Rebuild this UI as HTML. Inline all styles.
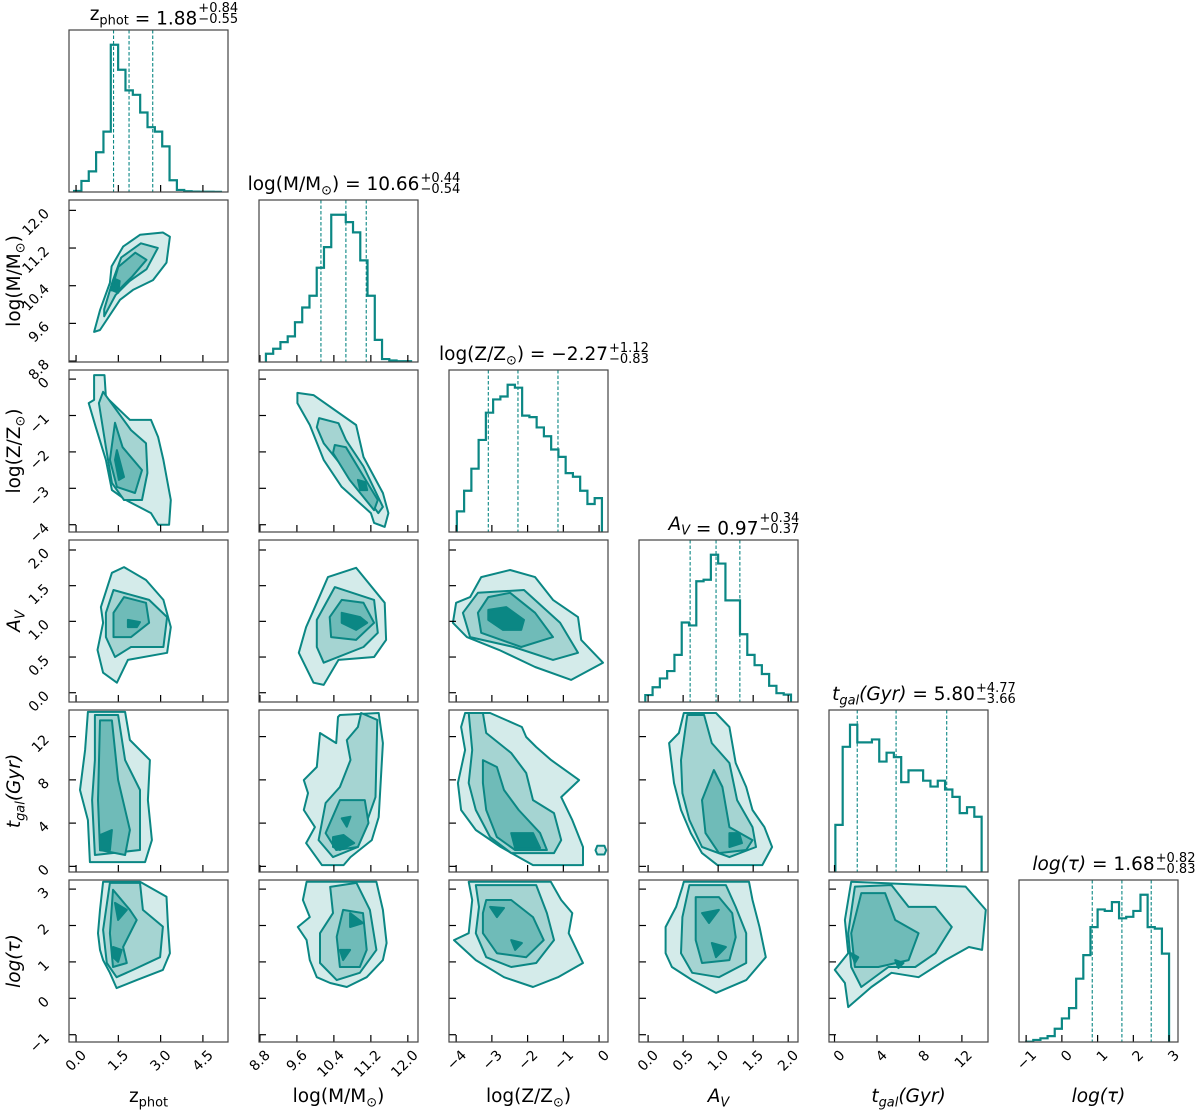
<!DOCTYPE html>
<html><head><meta charset="utf-8"><style>
html,body{margin:0;padding:0;background:#fff;}
svg{display:block;font-family:"DejaVu Sans","Liberation Sans",sans-serif;}
</style></head><body>
<svg id="fig" width="1200" height="1110" viewBox="0 0 1200 1110" xmlns="http://www.w3.org/2000/svg"></svg>
<script>
// ---- axis limits / ticks ----
const limZphot=[-0.25,5.39], limLogM=[8.78,12.22], limLogZ=[-4.2,0.25], limAv=[-0.13,2.14], limTgal=[-0.52,14.46], limLogtau=[-1.2,3.25];
const ticksZphot=[0,1.5,3,4.5], tickLabZphot=['0.0','1.5','3.0','4.5'];
const ticksLogM=[8.8,9.6,10.4,11.2,12.0], tickLabLogM=['8.8','9.6','10.4','11.2','12.0'];
const ticksLogZ=[-4,-3,-2,-1,0], tickLabLogZ=['\u22124','\u22123','\u22122','\u22121','0'];
const ticksAv=[0,0.5,1,1.5,2], tickLabAv=['0.0','0.5','1.0','1.5','2.0'];
const ticksTgal=[0,4,8,12], tickLabTgal=['0','4','8','12'];
const ticksLogtau=[-1,0,1,2,3], tickLabLogtau=['\u22121','0','1','2','3'];
// ---- histograms (relative counts, 20 bins) ----
const binsZphot=[-0.07,5.14], histZphot=[0.007,0.075,0.14,0.27,0.41,1.0,0.83,0.69,0.66,0.54,0.44,0.41,0.31,0.08,0.014,0.005,0.003,0.002,0.002,0.001];
const binsLogM=[8.93,12.07], histLogM=[0.056,0.09,0.135,0.174,0.27,0.37,0.45,0.64,0.78,1,1,0.95,0.88,0.69,0.45,0.15,0.02,0.01,0.005,0.005];
const binsLogZ=[-3.98,0.08], histLogZ=[0.14,0.28,0.43,0.625,0.81,0.9,0.92,1.0,0.98,0.79,0.78,0.71,0.65,0.56,0.51,0.40,0.375,0.28,0.19,0.23];
const binsAv=[-0.04,2.04], histAv=[0.047,0.1,0.16,0.21,0.32,0.54,0.52,0.82,0.83,1.0,0.94,0.69,0.69,0.46,0.32,0.25,0.19,0.11,0.06,0.05];
const binsTgal=[0.08,13.86], histTgal=[0.32,0.85,1.0,0.88,0.88,0.90,0.75,0.81,0.78,0.61,0.69,0.69,0.62,0.58,0.62,0.56,0.51,0.40,0.44,0.375];
const binsLogtau=[-1.0,3.0], histLogtau=[0.002,0.014,0.025,0.04,0.09,0.16,0.23,0.43,0.59,0.78,0.90,0.89,0.95,0.84,0.85,0.89,1.0,0.78,0.77,0.60];
// ---- quantiles [16,50,84] ----
const qZphot=[1.33,1.88,2.72], qLogM=[10.12,10.66,11.10], qLogZ=[-3.10,-2.27,-1.15], qAv=[0.60,0.97,1.31], qTgal=[2.14,5.80,10.57], qLogtau=[0.85,1.68,2.50];
// ---- contour polygons (data coords, x,y pairs): levels outer->core ----
const c_r1c0=[[[0.64,9.42,0.85,9.88,1.2,10.46,1.26,10.81,1.67,11.23,2.27,11.48,3.08,11.53,3.33,11.44,3.21,10.89,2.73,10.52,2.02,10.31,1.56,10.1,0.85,9.46]],
 [[1.0,9.9,1.3,10.5,1.6,11.0,2.3,11.3,2.9,11.2,2.5,10.75,1.9,10.5,1.4,10.2,1.0,9.75]],
 [[1.25,10.3,1.5,10.8,2.1,11.1,2.5,10.95,2.0,10.6,1.5,10.3]],
 [[1.3,10.3,1.35,10.55,1.55,10.5,1.5,10.25]]];
const c_r2c0=[[[0.64,0.11,1.01,0.11,1.06,-0.49,1.91,-1.12,2.66,-1.12,2.91,-1.59,3.1,-2.22,3.36,-3.32,3.3,-4.0,2.91,-4.0,2.66,-3.68,1.77,-3.32,1.27,-3.05,1.06,-2.22,0.7,-1.32,0.45,-0.66,0.64,-0.57]],
 [[0.96,-0.35,1.95,-1.4,2.48,-1.76,2.53,-2.58,2.34,-3.32,1.7,-3.32,1.27,-2.85,1.06,-1.87,0.81,-0.66]],
 [[1.38,-1.2,1.65,-1.87,2.34,-2.5,2.09,-3.13,1.45,-2.96,1.2,-2.22]],
 [[1.45,-1.95,1.7,-2.69,1.52,-2.77,1.38,-2.22]]];
const c_r2c1=[[[9.61,-0.38,9.96,-0.44,10.88,-1.26,11.04,-2.14,11.46,-3.13,11.58,-3.68,11.5,-4.06,11.27,-3.95,11.2,-3.68,10.57,-2.96,10.18,-2.22,9.88,-1.26,9.61,-0.66]],
 [[10.08,-1.07,10.5,-1.21,10.66,-1.67,11.04,-2.4,11.46,-3.51,11.36,-3.68,11.04,-3.13,10.18,-1.76,10.03,-1.32]],
 [[10.42,-1.81,10.66,-1.87,11.35,-3.32,11.27,-3.6,10.74,-2.77,10.38,-2.03]],
 [[10.92,-2.77,11.08,-2.83,11.12,-3.05,10.97,-3.05]]];
const c_r3c0=[[[1.7,1.76,2.48,1.58,3.1,1.3,3.36,0.92,3.23,0.56,1.84,0.46,1.45,0.14,0.96,0.28,0.76,0.6,0.96,0.98,0.88,1.2,1.27,1.68]],
 [[1.33,1.44,2.59,1.3,3.23,1.06,3.1,0.64,1.95,0.64,1.38,0.5,1.06,0.78,1.06,1.12]],
 [[1.7,1.34,2.48,1.26,2.59,0.98,1.95,0.78,1.33,0.78,1.33,1.12]],
 [[1.84,1.02,2.27,0.99,2.16,0.92,1.84,0.92]]];
const c_r3c1=[[[10.88,1.75,11.5,1.26,11.53,0.74,11.27,0.5,10.5,0.46,10.18,0.11,9.96,0.14,9.64,0.56,9.8,0.92,10.03,1.26,10.27,1.62]],
 [[10.42,1.48,11.27,1.3,11.35,0.84,11.04,0.64,10.18,0.42,10.03,0.64,10.03,1.02]],
 [[10.57,1.3,11.04,1.26,11.27,0.98,10.88,0.74,10.34,0.78,10.31,1.06]],
 [[10.57,1.12,10.97,1.06,11.12,0.98,10.88,0.88,10.57,0.98]]];
const c_r3c2=[[[-3.3,1.62,-2.49,1.72,-1.79,1.62,-1.29,1.3,-0.59,1.06,-0.5,0.74,0.11,0.42,-0.78,0.18,-1.79,0.36,-2.8,0.6,-3.7,0.78,-4.09,0.98,-4.0,1.26,-3.61,1.34]],
 [[-3.39,1.4,-2.1,1.44,-1.09,0.98,-0.59,0.56,-1.29,0.46,-2.39,0.64,-3.61,0.78,-3.81,1.12]],
 [[-3.1,1.34,-2.49,1.4,-1.79,1.12,-1.29,0.78,-2.18,0.64,-3.3,0.84,-3.39,1.12]],
 [[-3.1,1.16,-2.6,1.2,-2.1,1.02,-2.18,0.88,-2.69,0.88,-3.1,1.02]]];
const c_r4c0=[[[0.42,14.28,1.74,14.28,1.91,11.69,2.62,9.83,2.55,6.13,2.69,2.43,2.45,0.4,0.49,0.4,0.42,4.28,0.14,7.06,0.32,10.76]],
 [[0.67,14.0,1.49,14.0,1.74,9.83,2.27,7.06,2.27,1.51,0.67,1.05,0.57,6.13,0.67,9.83]],
 [[0.85,13.5,1.27,13.5,1.49,8.0,1.91,3.36,1.74,1.05,0.85,1.51,0.78,6.13]],
 [[0.85,2.9,1.27,3.36,1.2,1.5,0.85,1.5]]];
const c_r4c1=[[[10.53,14.0,11.37,14.18,11.46,11.4,11.37,4.56,11.22,2.43,10.76,0.86,10.61,0.12,10.14,0.12,9.8,2.15,9.99,3.63,9.75,5.21,9.84,6.78,9.75,7.98,10.03,9.19,10.1,12.33,10.45,11.4,10.49,13.81]],
 [[10.99,14.18,11.34,13.54,11.3,6.41,10.92,1.79,10.38,0.86,10.07,2.43,10.22,5.86,10.53,7.34,10.76,9.84,10.68,11.68,10.92,12.89]],
 [[10.53,6.13,11.07,6.13,11.15,4.01,10.92,1.79,10.45,1.51,10.22,3.08]],
 [[10.38,2.71,10.61,2.9,10.84,2.15,10.53,1.51,10.38,1.79],[10.57,4.44,10.76,4.59,10.68,3.67]]];
const c_r4c2=[[[-3.75,14.18,-3.05,14.18,-2.16,12.89,-2.04,11.96,-1.76,11.04,-1.34,9.83,-0.56,7.98,-1.06,6.41,-0.75,4.28,-0.45,1.79,-0.45,0.12,-1.85,0.12,-2.25,0.86,-2.75,1.79,-3.45,3.36,-3.86,5.21,-3.95,7.71,-3.75,10.76,-3.86,12.89],[-0.05,1.9,0.15,1.9,0.2,1.5,0.15,1.1,-0.05,1.1,-0.1,1.5]],
 [[-3.65,14.18,-3.25,14.18,-3.16,12.33,-2.46,10.48,-2.04,8.63,-1.85,6.13,-1.26,4.93,-1.06,2.43,-1.26,1.23,-2.46,1.23,-3.05,2.71,-3.45,5.21,-3.65,7.71,-3.55,10.76]],
 [[-3.25,9.83,-2.86,9.19,-2.66,7.06,-2.25,5.21,-1.65,3.08,-1.46,1.51,-2.35,1.51,-2.86,2.71,-3.16,5.21,-3.25,7.71]],
 [[-2.46,3.08,-1.85,3.08,-1.65,1.69,-2.35,1.69]]];
const c_r4c3=[[[0.51,14.18,0.97,14.18,1.16,12.89,1.25,9.56,1.4,7.34,1.49,5.21,1.66,3.63,1.77,1.79,1.63,0.12,0.99,0.12,0.77,1.23,0.61,3.08,0.47,5.21,0.37,7.71,0.3,11.4,0.44,12.33]],
 [[0.56,14.0,0.8,14.0,0.91,11.4,1.16,9.56,1.27,6.13,1.49,3.63,1.54,1.79,1.16,0.86,0.77,1.79,0.59,4.28,0.49,6.78,0.47,9.83]],
 [[0.94,8.91,1.06,7.34,1.16,3.63,1.49,2.43,1.4,1.51,1.01,1.23,0.82,3.08,0.77,6.13]],
 [[1.16,3.08,1.3,3.08,1.34,2.15,1.16,1.79]]];
const c_r5c0=[[[0.96,3.2,2.27,3.2,3.21,2.79,3.26,1.97,3.33,1.24,3.08,0.78,2.15,0.5,1.44,0.28,1.2,0.7,0.96,1.05,0.85,1.33,0.78,1.79,0.85,2.43]],
 [[1.2,3.17,2.27,3.17,2.37,2.43,3.08,1.97,2.98,1.13,2.02,0.78,1.44,0.58,1.09,0.97,0.96,1.88]],
 [[1.31,2.98,1.91,2.43,2.15,2.15,1.67,1.41,1.8,0.97,1.31,0.86,1.2,1.79]],
 [[1.38,2.62,1.8,2.43,1.49,2.15],[1.31,1.41,1.62,1.33,1.49,1.0,1.31,1.13]]];
const c_r5c1=[[[9.81,3.2,11.32,3.2,11.46,2.43,11.54,1.52,11.46,1.05,11.11,0.58,10.68,0.31,10.32,0.42,10.03,0.58,9.88,1.05,9.81,1.6,9.62,1.96,9.88,2.23,9.73,2.7]],
 [[10.32,3.06,10.89,3.17,11.18,2.43,11.32,1.33,10.96,0.7,10.46,0.5,10.1,0.97,10.1,1.79,10.38,2.34]],
 [[10.6,2.43,11.03,2.34,11.11,1.33,10.96,0.86,10.53,0.86,10.46,1.69]],
 [[10.75,2.34,11.03,2.07,10.75,1.96],[10.53,1.33,10.75,1.33,10.6,1.05]]];
const c_r5c2=[[[-3.65,3.2,-1.35,3.2,-1.06,2.7,-0.75,2.34,-0.85,1.79,-0.45,0.97,-1.15,0.58,-1.85,0.31,-2.66,0.58,-3.45,1.05,-4.06,1.6,-3.65,1.79,-3.55,2.7]],
 [[-3.45,3.11,-1.76,3.11,-1.46,2.34,-1.26,1.6,-1.76,0.97,-2.46,0.86,-3.16,1.13,-3.45,1.79,-3.36,2.51]],
 [[-3.16,2.7,-2.46,2.7,-1.85,2.23,-1.55,1.6,-2.04,1.13,-2.86,1.24,-3.25,1.79,-3.25,2.34]],
 [[-3.05,2.51,-2.66,2.48,-2.86,2.23],[-2.46,1.6,-2.16,1.52,-2.35,1.33]]];
const c_r5c3=[[[0.51,3.2,1.44,3.2,1.49,2.7,1.59,1.96,1.68,1.13,1.4,0.5,0.97,0.15,0.63,0.5,0.34,0.86,0.25,1.24,0.25,1.96,0.4,2.51,0.49,3.06]],
 [[0.59,3.11,1.11,3.11,1.25,2.51,1.4,1.79,1.4,0.97,1.01,0.58,0.63,0.7,0.47,1.24,0.49,2.23]],
 [[0.68,2.78,1.01,2.78,1.2,2.34,1.25,1.68,1.16,1.05,0.77,0.97,0.68,1.6]],
 [[0.77,2.34,1.01,2.43,0.87,2.07],[0.91,1.52,1.11,1.41,0.97,1.13]]];
const c_r5c4=[[[1.57,3.2,12.35,3.07,14.25,2.43,13.9,1.33,12.66,1.41,10.45,1.05,7.92,0.58,5.37,0.7,3.47,0.31,1.29,-0.24,0.98,0.42,0.03,0.78,1.29,1.24,0.98,2.15]],
 [[1.92,3.07,5.37,3.11,6.98,2.51,9.5,2.51,11.05,1.96,9.5,1.24,7.61,0.86,5.08,0.86,2.52,0.31,1.57,0.86,1.29,1.79]],
 [[2.52,2.89,4.77,2.89,5.72,2.15,7.92,1.79,6.98,1.05,4.13,0.86,1.92,0.86,1.57,1.79]],
 [[1.57,1.24,2.24,1.13,1.92,0.97],[5.72,1.05,6.5,0.97,6.02,0.83]]];

const V=[
 {key:'zphot',lim:limZphot,ticks:ticksZphot,labs:tickLabZphot,bins:binsZphot,hist:histZphot,q:qZphot,title:['z','phot',false,'1.88','+0.84','\u22120.55']},
 {key:'logM',lim:limLogM,ticks:ticksLogM,labs:tickLabLogM,bins:binsLogM,hist:histLogM,q:qLogM,title:['log(M/M','\u2299',false,'10.66','+0.44','\u22120.54',')']},
 {key:'logZ',lim:limLogZ,ticks:ticksLogZ,labs:tickLabLogZ,bins:binsLogZ,hist:histLogZ,q:qLogZ,title:['log(Z/Z','\u2299',false,'\u22122.27','+1.12','\u22120.83',')']},
 {key:'Av',lim:limAv,ticks:ticksAv,labs:tickLabAv,bins:binsAv,hist:histAv,q:qAv,title:['A','V',true,'0.97','+0.34','\u22120.37']},
 {key:'tgal',lim:limTgal,ticks:ticksTgal,labs:tickLabTgal,bins:binsTgal,hist:histTgal,q:qTgal,title:['t','gal',true,'5.80','+4.77','\u22123.66','(Gyr)']},
 {key:'logtau',lim:limLogtau,ticks:ticksLogtau,labs:tickLabLogtau,bins:binsLogtau,hist:histLogtau,q:qLogtau,title:['log(\u03c4)','',true,'1.68','+0.82','\u22120.83']}
];
const C={'r1c0':c_r1c0,'r2c0':c_r2c0,'r2c1':c_r2c1,'r3c0':c_r3c0,'r3c1':c_r3c1,'r3c2':c_r3c2,'r4c0':c_r4c0,'r4c1':c_r4c1,'r4c2':c_r4c2,'r4c3':c_r4c3,'r5c0':c_r5c0,'r5c1':c_r5c1,'r5c2':c_r5c2,'r5c3':c_r5c3,'r5c4':c_r5c4};

const NS='http://www.w3.org/2000/svg';
const svg=document.getElementById('fig');
const TEAL='#0b8784';
const FILLS=['#d4ebea','#a5d4d2','#6fbbb8','#0b8784'];
const PW=159, PH=162;
function colLeft(j){return 69+190*j;}
function rowTop(i){return 30+170*i;}
function el(tag,attrs,parent){const e=document.createElementNS(NS,tag);for(const k in attrs)e.setAttribute(k,attrs[k]);(parent||svg).appendChild(e);return e;}
function xScale(v,j){const l=V[v].lim;return x=>colLeft(j)+(x-l[0])/(l[1]-l[0])*PW;}
function yScale(v,i){const l=V[v].lim;return y=>rowTop(i)+PH-(y-l[0])/(l[1]-l[0])*PH;}

function mathLabel(parent,x,y,t,size,anchor){
  const tx=el('text',{x:x,y:y,'font-size':size,'text-anchor':anchor||'start',fill:'#000'},parent);
  const m=document.createElementNS(NS,'tspan');m.textContent=t[0];if(t[2])m.setAttribute('font-style','italic');tx.appendChild(m);
  if(t[1]){const s=document.createElementNS(NS,'tspan');s.textContent=t[1];s.setAttribute('font-size',size*0.7);s.setAttribute('dy',size*0.25);if(t[2])s.setAttribute('font-style','italic');tx.appendChild(s);
    const r=document.createElementNS(NS,'tspan');r.setAttribute('dy',-size*0.25);r.textContent=(t[6]||'');if(t[2])r.setAttribute('font-style','italic');tx.appendChild(r);}
  else if(t[6]){const r=document.createElementNS(NS,'tspan');r.textContent=t[6];tx.appendChild(r);}
  return tx;
}

for(let i=0;i<6;i++){
  for(let j=0;j<=i;j++){
    const g=el('g',{});
    
    
    const L=colLeft(j),T=rowTop(i);
    const X=xScale(j,j);
    const cid='clip'+i+'_'+j;
    const cp=el('clipPath',{id:cid},g);el('rect',{x:L,y:T,width:PW,height:PH},cp);
    const inner=el('g',{'clip-path':'url(#'+cid+')'},g);
    if(i===j){
      const d=V[i];const n=d.hist.length;const bw=(d.bins[1]-d.bins[0])/n;
      const maxH=Math.max(...d.hist)*1.1;
      const Y=h=>T+PH-h/maxH*PH;
      let p='M'+X(d.bins[0])+','+(T+PH);
      for(let k=0;k<n;k++){p+=' L'+X(d.bins[0]+k*bw)+','+Y(d.hist[k])+' L'+X(d.bins[0]+(k+1)*bw)+','+Y(d.hist[k]);}
      p+=' L'+X(d.bins[1])+','+(T+PH);
      const hp=el('path',{d:p,fill:'none',stroke:TEAL,'stroke-width':2.2,'stroke-linejoin':'miter'},inner);
      
      
      d.q.forEach((qv,k)=>{
        const ql=el('line',{x1:X(qv),x2:X(qv),y1:T,y2:T+PH,stroke:TEAL,'stroke-width':1.1,'stroke-dasharray':'3.5,2'},inner);
        
        
      });
      const t=d.title;
      const tg=el('g',{},svg);
      
      
      const ty=T-10;
      const main=mathLabel(tg,0,ty,t,18.5,'start');
      const eq=document.createElementNS(NS,'tspan');eq.textContent=' = '+t[3];main.appendChild(eq);
      let w=main.getComputedTextLength?main.getComputedTextLength():120;
      const sw=42;
      const x0=L+PW/2-(w+sw)/2+16;
      main.setAttribute('x',x0);
      const sup=el('text',{x:x0+w+1,y:ty-8,'font-size':13,fill:'#000'},tg);sup.textContent=t[4];
      const sub=el('text',{x:x0+w+1,y:ty+3,'font-size':13,fill:'#000'},tg);sub.textContent=t[5];
    } else {
      const Y=yScale(i,i);
      const polys=C['r'+i+'c'+j];
      polys.forEach((lev,li)=>{
        lev.forEach(pts=>{
          let p='';
          for(let k=0;k<pts.length;k+=2){p+=(k?' L':'M')+X(pts[k]).toFixed(1)+','+Y(pts[k+1]).toFixed(1);}
          p+=' Z';
          const cp2=el('path',{d:p,fill:FILLS[li],stroke:TEAL,'stroke-width':2,'stroke-linejoin':'round'},inner);
          
          
        });
      });
      const yt=V[i];
      yt.ticks.forEach((tv,k)=>{
        const yy=Y(tv);
        el('line',{x1:L,x2:L+7,y1:yy,y2:yy,stroke:'#000','stroke-width':1.2},g);
        if(j===0){
          const px=L-19,py=yy+4;
          const tl=el('text',{x:px,y:py,'font-size':14,'text-anchor':'end',transform:'rotate(-45 '+px+' '+py+')',fill:'#000'},g);
          tl.textContent=yt.labs[k];
          
          
        }
      });
    }
    const xv=V[j];
    xv.ticks.forEach((tv,k)=>{
      const xx=X(tv);
      el('line',{x1:xx,x2:xx,y1:T+PH,y2:T+PH-7,stroke:'#000','stroke-width':1.2},g);
      if(i===5){
        const px=xx+11,py=T+PH+14;
        const tl=el('text',{x:px,y:py,'font-size':14,'text-anchor':'end',transform:'rotate(-45 '+px+' '+py+')',fill:'#000'},g);
        tl.textContent=xv.labs[k];
        
        
      }
    });
    const fr=el('rect',{x:L,y:T,width:PW,height:PH,fill:'none',stroke:'#444','stroke-width':1.2},g);
    
    
  }
}
const axT=[['z','phot',false],['log(M/M','\u2299',false,0,0,0,')'],['log(Z/Z','\u2299',false,0,0,0,')'],['A','V',true],['t','gal',true,0,0,0,'(Gyr)'],['log(\u03c4)','',true]];
for(let j=0;j<6;j++){
  const xl=mathLabel(svg,colLeft(j)+PW/2,1102,axT[j],18.5,'middle');
  
  
}
for(let i=1;i<6;i++){
  const cy=rowTop(i)+PH/2;
  const yl=mathLabel(svg,0,0,axT[i],18.5,'middle');
  yl.setAttribute('transform','translate(20,'+cy+') rotate(-90)');
  
  
}
</script>
</body></html>
